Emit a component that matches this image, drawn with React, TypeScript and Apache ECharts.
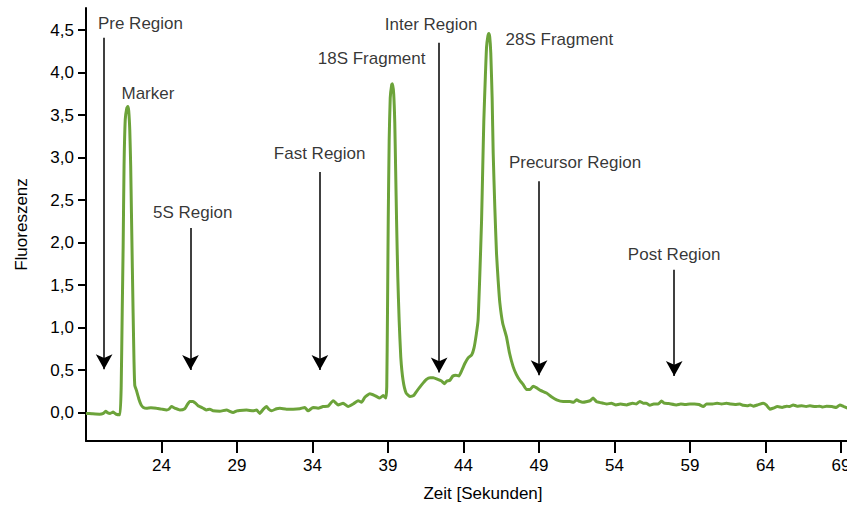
import React, { useEffect, useRef } from "react";
import * as echarts from "echarts";

const times = [
  19.0, 19.4, 19.9, 20.15, 20.3, 20.45, 20.6, 20.8, 21.0, 21.25,
  21.33, 21.4, 21.46, 21.52, 21.6, 21.7, 21.77, 21.83, 21.9, 21.96, 22.01, 22.07, 22.12, 22.18, 22.23, 22.34, 22.5, 22.65, 22.8,
  23.0, 23.3, 23.67, 24.0, 24.33, 24.5, 24.66, 24.9, 25.21, 25.54, 25.7, 25.87, 26.09, 26.25, 26.42, 26.54, 26.76, 26.98,
  27.2, 27.42, 27.86, 28.3, 28.74, 29.0, 29.19, 29.63, 30.07, 30.3, 30.51, 30.75, 30.96, 31.1, 31.29, 31.62, 31.84,
  32.28, 32.72, 33.16, 33.49, 33.71, 34.04, 34.37, 34.7, 35.04, 35.37, 35.7, 36.03, 36.36, 36.69, 37.02, 37.25, 37.47,
  37.8, 38.13, 38.46, 38.68, 38.86,
  38.92, 38.97, 39.02, 39.08, 39.15, 39.25, 39.3, 39.38, 39.45, 39.51, 39.57, 39.65, 39.74, 39.85, 40.0, 40.2, 40.45,
  40.7, 40.9, 41.2, 41.55, 41.8, 42.0, 42.3, 42.55, 42.75, 42.9, 43.1, 43.3, 43.5, 43.7, 43.9, 44.1, 44.3, 44.55, 44.7,
  44.85, 44.97, 45.08, 45.2, 45.28, 45.35, 45.45, 45.53, 45.62, 45.68, 45.74, 45.81, 45.9, 45.97, 46.08, 46.19, 46.3,
  46.41, 46.6, 46.85, 47.05, 47.29, 47.5, 47.73, 47.95, 48.18, 48.4, 48.62, 48.85, 49.1, 49.5, 49.8, 50.17, 50.6, 51.05,
  51.3, 51.49, 51.7, 51.9, 52.2, 52.4, 52.59, 52.8, 53.0, 53.25, 53.5, 53.8, 54.1, 54.4, 54.8, 55.2, 55.45, 55.68, 55.9,
  56.1, 56.35, 56.6, 56.9, 57.12, 57.3, 57.6, 58.11, 58.4, 58.7, 59.0, 59.3, 59.6, 59.88, 60.1, 60.5, 60.8, 61.1, 61.43,
  61.7, 62.0, 62.3, 62.53, 62.8, 63.0, 63.19, 63.5, 63.85, 64.05, 64.3, 64.5, 64.8, 65.1, 65.4, 65.6, 65.84, 66.1, 66.4,
  66.7, 66.95, 67.3, 67.6, 67.8, 68.05, 68.4, 68.7, 68.93, 69.2, 69.5, 70.0,
];

const fluorescence = [
  -0.01, -0.015, -0.02, -0.01, 0.015, -0.005, -0.01, 0.005, -0.02, -0.025,
  0.3, 1.2, 1.95, 2.9, 3.45, 3.58, 3.6, 3.55, 3.32, 2.9, 2.35, 1.7, 1.17, 0.6, 0.32, 0.26, 0.16, 0.09, 0.06,
  0.05, 0.055, 0.05, 0.04, 0.03, 0.04, 0.07, 0.05, 0.03, 0.045, 0.09, 0.13, 0.13, 0.11, 0.08, 0.07, 0.05, 0.03,
  0.04, 0.02, 0.015, 0.03, 0.0, 0.02, 0.025, 0.03, 0.02, 0.03, -0.01, 0.04, 0.07, 0.04, 0.02, 0.045, 0.05,
  0.04, 0.04, 0.045, 0.06, 0.02, 0.06, 0.05, 0.07, 0.075, 0.14, 0.09, 0.11, 0.07, 0.1, 0.14, 0.12, 0.18,
  0.22, 0.2, 0.17, 0.2, 0.17,
  0.3, 1.2, 2.3, 3.2, 3.7, 3.86, 3.87, 3.75, 3.42, 2.85, 2.26, 1.6, 1.09, 0.65, 0.38, 0.23, 0.19,
  0.2, 0.25, 0.32, 0.39, 0.41, 0.41, 0.39, 0.37, 0.34, 0.37, 0.38, 0.43, 0.44, 0.43, 0.5, 0.58, 0.64, 0.68, 0.76,
  0.92, 1.09, 1.6, 2.26, 2.9, 3.44, 3.95, 4.3, 4.43, 4.46, 4.42, 4.23, 3.7, 3.05, 2.4, 1.87, 1.55,
  1.29, 1.05, 0.89, 0.7, 0.54, 0.45, 0.38, 0.33, 0.27, 0.27, 0.31, 0.29, 0.26, 0.23, 0.19, 0.15, 0.13, 0.13,
  0.12, 0.15, 0.13, 0.12, 0.13, 0.14, 0.17, 0.13, 0.12, 0.11, 0.1, 0.11, 0.09, 0.1, 0.09, 0.11, 0.1, 0.13, 0.11,
  0.11, 0.085, 0.1, 0.1, 0.135, 0.11, 0.105, 0.09, 0.1, 0.095, 0.1, 0.1, 0.095, 0.07, 0.1, 0.1, 0.11, 0.1, 0.11,
  0.1, 0.095, 0.1, 0.085, 0.08, 0.09, 0.075, 0.09, 0.11, 0.09, 0.04, 0.05, 0.07, 0.06, 0.075, 0.07, 0.09, 0.075, 0.08,
  0.07, 0.08, 0.07, 0.075, 0.065, 0.075, 0.07, 0.06, 0.09, 0.07, 0.05, 0.05,
];

const xTicks = [24, 29, 34, 39, 44, 49, 54, 59, 64, 69];
const yTicks = [0, 0.5, 1, 1.5, 2, 2.5, 3, 3.5, 4, 4.5];

const labelNames = [
  "Pre Region", "Marker", "5S Region", "Fast Region", "18S Fragment",
  "Inter Region", "28S Fragment", "Precursor Region", "Post Region",
];
const labelX = [19.79, 21.35, 23.44, 31.44, 34.35, 38.79, 46.79, 47.01, 54.89];
const labelY = [4.58, 3.755, 2.35, 3.053, 4.17, 4.57, 4.394, 2.94, 1.865];

const arrowX = [20.2, 25.92, 34.49, 42.39, 49.01, 57.96];
const arrowTop = [4.41, 2.17, 2.83, 4.35, 2.72, 1.68];
const arrowTip = [0.51, 0.5, 0.5, 0.47, 0.44, 0.43];

const FONT = "'Liberation Sans', Arial, Helvetica, sans-serif";

export default function App() {
  const ref = useRef<HTMLDivElement>(null);

  useEffect(() => {
    if (!ref.current) return;
    const chart = echarts.init(ref.current, undefined, { renderer: "svg" });
    const lineData = times.map((t, i) => [t, fluorescence[i]]);
    const labelData = labelNames.map((n, i) => [labelX[i], labelY[i], n]);
    const arrowData = arrowX.map((x, i) => [
      { coord: [x, arrowTop[i]] },
      { coord: [x, arrowTip[i]] },
    ]);

    chart.setOption({
      animation: false,
      textStyle: { fontFamily: FONT },
      grid: { left: 86, top: 8, right: 14, bottom: 67, containLabel: false },
      xAxis: {
        type: "value",
        min: 19,
        max: 70,
        name: "Zeit [Sekunden]",
        nameLocation: "middle",
        nameGap: 44,
        nameTextStyle: { color: "#000", fontSize: 17, fontFamily: FONT, padding: [0, 0, 0, 24] },
        axisLine: { show: true, onZero: false, lineStyle: { color: "#000", width: 2 } },
        axisTick: { show: true, customValues: xTicks, length: 12, lineStyle: { color: "#000", width: 2 } },
        axisLabel: { customValues: xTicks, color: "#000", fontSize: 17, fontFamily: FONT, margin: 16 },
        splitLine: { show: false },
      },
      yAxis: {
        type: "value",
        min: -0.335,
        max: 4.76,
        name: "Fluoreszenz",
        nameLocation: "middle",
        nameGap: 56,
        nameTextStyle: { color: "#000", fontSize: 17, fontFamily: FONT },
        axisLine: { show: true, onZero: false, lineStyle: { color: "#000", width: 2 } },
        axisTick: { show: true, customValues: yTicks, length: 8, lineStyle: { color: "#000", width: 2 } },
        axisLabel: {
          customValues: yTicks,
          color: "#000",
          fontSize: 17,
          fontFamily: FONT,
          margin: 12,
          formatter: (v: number) => v.toFixed(1).replace(".", ","),
        },
        splitLine: { show: false },
      },
      series: [
        {
          type: "line",
          data: lineData,
          showSymbol: false,
          symbol: "none",
          smooth: 0.15,
          lineStyle: { color: "#6ca33a", width: 3 },
          silent: true,
          z: 3,
        },
        {
          type: "scatter",
          data: labelData,
          symbolSize: 0,
          silent: true,
          label: {
            show: true,
            position: "right",
            distance: 0,
            color: "#000",
            fontSize: 17,
            fontFamily: FONT,
            formatter: (p: any) => p.data[2],
          },
          markLine: {
            silent: true,
            symbol: ["none", "arrow"],
            symbolSize: [12.5, 15],
            label: { show: false },
            lineStyle: { color: "#000", width: 1.5, type: "solid" },
            emphasis: { disabled: true },
            data: arrowData,
          },
          z: 4,
        },
      ],
    });
    return () => chart.dispose();
  }, []);

  return (
    <div style={{ position: "fixed", left: 0, top: 0, width: 847, height: 508, overflow: "hidden", background: "#fff" }}>
      <div ref={ref} style={{ width: 870, height: 508 }} />
    </div>
  );
}
